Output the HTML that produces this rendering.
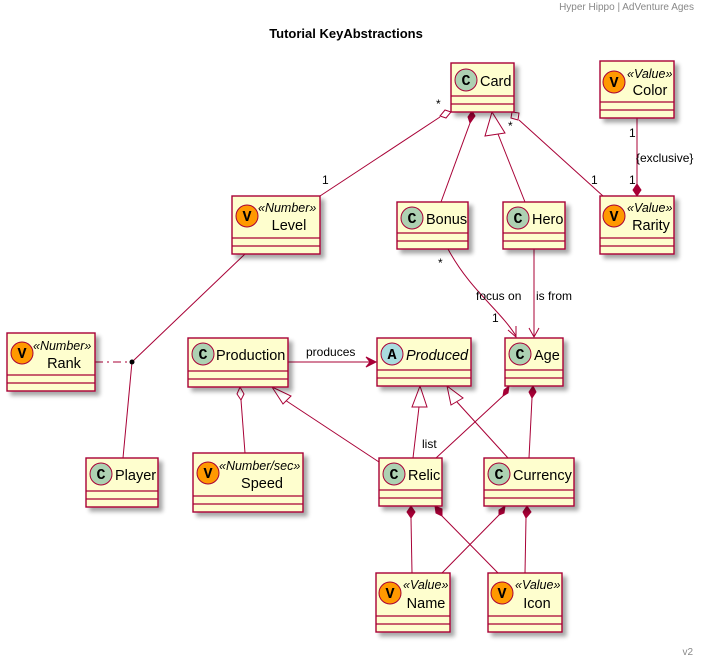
<!DOCTYPE html>
<html><head><meta charset="utf-8"><style>body{margin:0;background:#fff}svg{display:block}</style></head><body>
<svg width="706" height="664" viewBox="0 0 706 664" xmlns="http://www.w3.org/2000/svg" font-family="Liberation Sans, sans-serif">
<defs><filter id="sh" x="-20%" y="-20%" width="150%" height="150%"><feGaussianBlur in="SourceAlpha" stdDeviation="2"/><feOffset dx="4" dy="4"/><feComponentTransfer><feFuncA type="linear" slope="0.35"/></feComponentTransfer><feMerge><feMergeNode/><feMergeNode in="SourceGraphic"/></feMerge></filter></defs>
<text x="694" y="10" font-size="10" fill="#888" text-anchor="end">Hyper Hippo | AdVenture Ages</text>
<text x="346" y="38" font-size="13" font-weight="bold" text-anchor="middle">Tutorial KeyAbstractions</text>
<text x="693" y="655" font-size="10" fill="#888" text-anchor="end">v2</text>

<g fill="none" stroke="#A80036" stroke-width="1">
<line x1="440" y1="117" x2="320" y2="196"/>
<polygon points="445,110 451,112 446,118 440,116" fill="#fff"/>
<line x1="470" y1="123" x2="441" y2="202"/>
<polygon points="472,111 475,116 470,123 468,117" fill="#A80036"/>
<line x1="498" y1="134" x2="525" y2="202"/>
<polygon points="492,112 505,133 485,136" fill="#fff"/>
<line x1="519" y1="120" x2="603" y2="196"/>
<polygon points="512,112 519,113 518,120 511,118" fill="#fff"/>
<line x1="637" y1="118" x2="637" y2="186"/>
<polygon points="637,184 641,190 637,196 633,190" fill="#A80036"/>
<line x1="245" y1="254" x2="132" y2="362"/>
<line x1="132" y1="362" x2="123" y2="458"/>
<line x1="95" y1="362" x2="132" y2="362" stroke-dasharray="8,4,2,4"/>
<path d="M448,249 C470,290 500,310 516,336"/>
<polyline points="508,330 516,337 516,326"/>
<line x1="534" y1="249" x2="534" y2="337"/>
<polyline points="529,328 534,337 539,328"/>
<line x1="288" y1="362" x2="376" y2="362"/>
<polygon points="376,362 366,357 370,362 366,367" fill="#A80036"/>
<line x1="241" y1="400" x2="245" y2="453"/>
<polygon points="240,387 244,394 241,400 237,394" fill="#fff"/>
<line x1="285" y1="400" x2="379" y2="462"/>
<polygon points="272,387 291,396 283,404" fill="#fff"/>
<line x1="419" y1="407" x2="413" y2="458"/>
<polygon points="420,386 427,407 412,407" fill="#fff"/>
<line x1="457" y1="402" x2="508" y2="458"/>
<polygon points="447,386 463,398 451,405" fill="#fff"/>
<line x1="503" y1="396" x2="436" y2="458"/>
<polygon points="509,386 508,393 503,396 504,390" fill="#A80036"/>
<line x1="532" y1="398" x2="529" y2="458"/>
<polygon points="533,386 536,392 532,398 529,392" fill="#A80036"/>
<line x1="411" y1="518" x2="412" y2="573"/>
<polygon points="411,506 415,512 411,518 407,512" fill="#A80036"/>
<line x1="442" y1="516" x2="498" y2="573"/>
<polygon points="435,506 442,509 442,516 436,513" fill="#A80036"/>
<line x1="499" y1="515" x2="442" y2="573"/>
<polygon points="505,506 504,513 499,515 499,510" fill="#A80036"/>
<line x1="526" y1="518" x2="525" y2="573"/>
<polygon points="527,506 531,512 526,518 523,512" fill="#A80036"/>
</g>
<circle cx="132" cy="362" r="2.5" fill="#000"/>

<g font-size="12" fill="#000">
<text x="436" y="108">*</text><text x="322" y="184">1</text>
<text x="508" y="130">*</text><text x="591" y="184">1</text>
<text x="629" y="137">1</text><text x="636" y="162">{exclusive}</text><text x="629" y="184">1</text>
<text x="438" y="267">*</text><text x="476" y="300">focus on</text><text x="492" y="322">1</text>
<text x="536" y="300">is from</text>
<text x="306" y="356">produces</text>
<text x="422" y="448">list</text>
</g>

<g stroke="#A80036" stroke-width="1.4" fill="#FEFECE" filter="url(#sh)">
<rect x="451" y="63" width="63" height="49"/>
<rect x="600" y="61" width="74" height="57"/>
<rect x="600" y="196" width="74" height="58"/>
<rect x="397" y="202" width="71" height="47"/>
<rect x="503" y="202" width="62" height="47"/>
<rect x="232" y="196" width="88" height="58"/>
<rect x="7" y="333" width="88" height="58"/>
<rect x="188" y="338" width="100" height="49"/>
<rect x="86" y="458" width="72" height="49"/>
<rect x="193" y="453" width="110" height="59"/>
<rect x="377" y="338" width="94" height="48"/>
<rect x="505" y="338" width="58" height="48"/>
<rect x="379" y="458" width="63" height="48"/>
<rect x="484" y="458" width="90" height="48"/>
<rect x="376" y="573" width="74" height="59"/>
<rect x="488" y="573" width="74" height="59"/>
</g>
<g stroke="#A80036" stroke-width="1.2">
<path d="M451,96H514M451,104H514"/>
<path d="M600,102H674M600,110H674"/>
<path d="M600,238H674M600,246H674"/>
<path d="M397,233H468M397,241H468"/>
<path d="M503,233H565M503,241H565"/>
<path d="M232,238H320M232,246H320"/>
<path d="M7,375H95M7,383H95"/>
<path d="M188,371H288M188,379H288"/>
<path d="M86,491H158M86,499H158"/>
<path d="M193,496H303M193,504H303"/>
<path d="M377,370H471M377,378H471"/>
<path d="M505,370H563M505,378H563"/>
<path d="M379,490H442M379,498H442"/>
<path d="M484,490H574M484,498H574"/>
<path d="M376,616H450M376,624H450"/>
<path d="M488,616H562M488,624H562"/>
</g>
<g stroke="#A80036" stroke-width="1">
<circle cx="466" cy="80" r="11" fill="#ADD1B2"/>
<circle cx="412" cy="218" r="11" fill="#ADD1B2"/>
<circle cx="518" cy="218" r="11" fill="#ADD1B2"/>
<circle cx="203" cy="354" r="11" fill="#ADD1B2"/>
<circle cx="101" cy="474" r="11" fill="#ADD1B2"/>
<circle cx="392" cy="354" r="11" fill="#A9DCDF"/>
<circle cx="520" cy="354" r="11" fill="#ADD1B2"/>
<circle cx="394" cy="474" r="11" fill="#ADD1B2"/>
<circle cx="499" cy="474" r="11" fill="#ADD1B2"/>
<circle cx="614" cy="82" r="11" fill="#FF9900"/>
<circle cx="614" cy="216" r="11" fill="#FF9900"/>
<circle cx="247" cy="216" r="11" fill="#FF9900"/>
<circle cx="22" cy="353" r="11" fill="#FF9900"/>
<circle cx="208" cy="473" r="11" fill="#FF9900"/>
<circle cx="390" cy="593" r="11" fill="#FF9900"/>
<circle cx="502" cy="593" r="11" fill="#FF9900"/>
</g>
<g font-size="15" font-weight="bold" font-family="Liberation Mono, monospace" text-anchor="middle">
<text x="466" y="85">C</text><text x="412" y="223">C</text><text x="518" y="223">C</text>
<text x="203" y="359">C</text><text x="101" y="479">C</text><text x="392" y="359">A</text>
<text x="520" y="359">C</text><text x="394" y="479">C</text><text x="499" y="479">C</text>
<text x="614" y="87">V</text><text x="614" y="221">V</text><text x="247" y="221">V</text>
<text x="22" y="358">V</text><text x="208" y="478">V</text><text x="390" y="598">V</text><text x="502" y="598">V</text>
</g>
<g font-size="14.5" fill="#000">
<text x="480" y="86">Card</text>
<text x="426" y="224">Bonus</text>
<text x="532" y="224">Hero</text>
<text x="216" y="360">Production</text>
<text x="115" y="480">Player</text>
<text x="406" y="360" font-style="italic">Produced</text>
<text x="534" y="360">Age</text>
<text x="408" y="480">Relic</text>
<text x="513" y="480">Currency</text>
</g>
<g font-size="12.5" font-style="italic" fill="#000">
<text x="627" y="78">«Value»</text>
<text x="627" y="212">«Value»</text>
<text x="258" y="212">«Number»</text>
<text x="33" y="350">«Number»</text>
<text x="219" y="470">«Number/sec»</text>
<text x="403" y="589">«Value»</text>
<text x="515" y="589">«Value»</text>
</g>
<g font-size="14.5" fill="#000" text-anchor="middle">
<text x="650" y="95">Color</text>
<text x="651" y="230">Rarity</text>
<text x="289" y="230">Level</text>
<text x="64" y="368">Rank</text>
<text x="262" y="488">Speed</text>
<text x="426" y="608">Name</text>
<text x="537" y="608">Icon</text>
</g>
</svg>
</body></html>
